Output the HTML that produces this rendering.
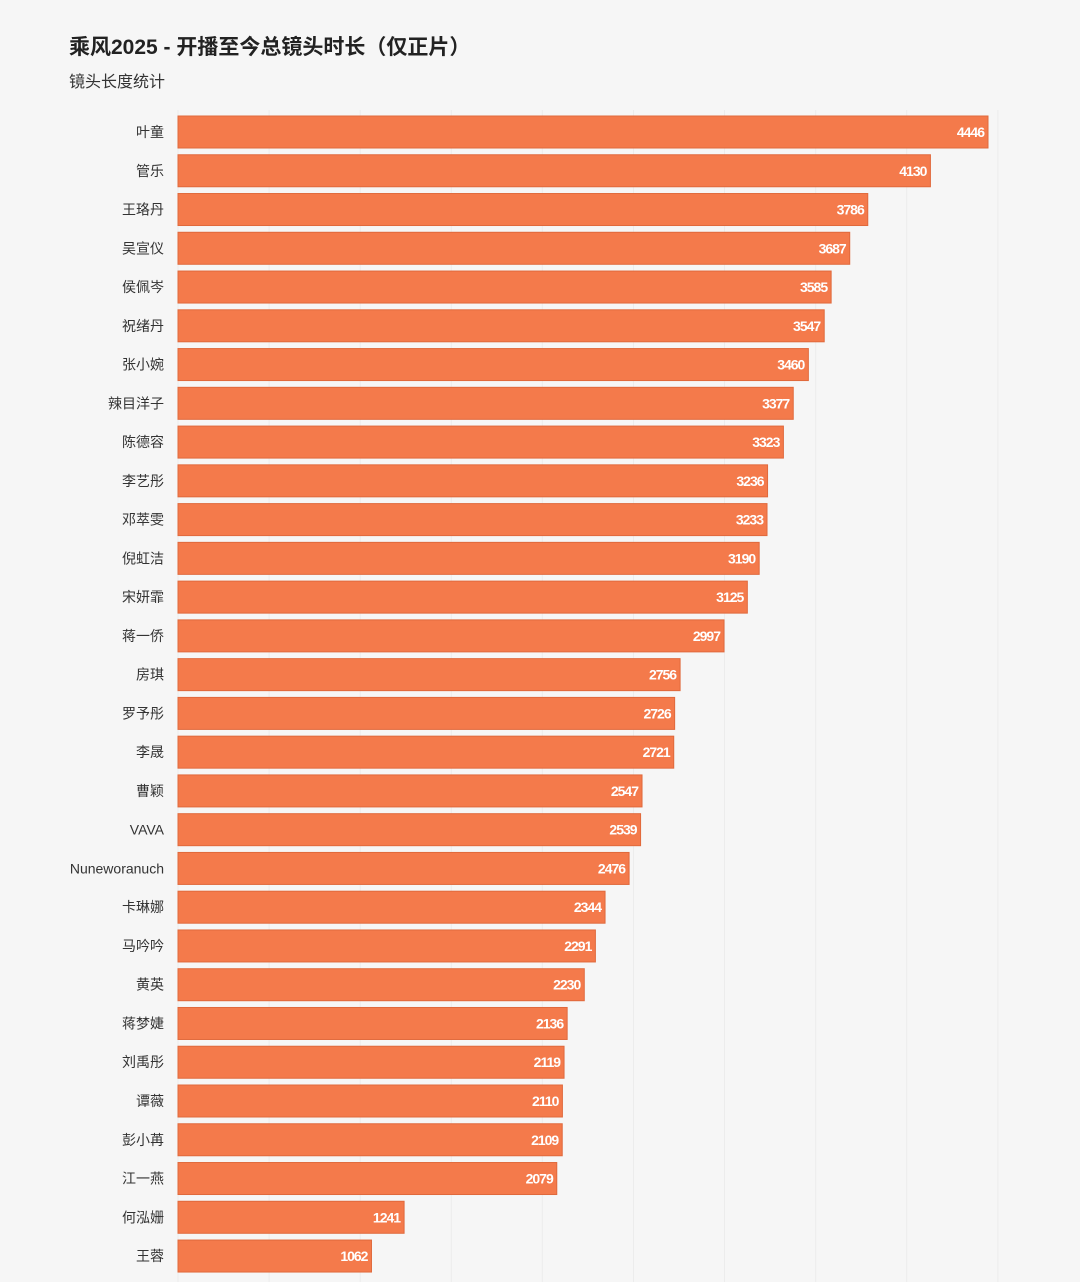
<!DOCTYPE html>
<html><head><meta charset="utf-8"><style>
body{margin:0;background:#f6f6f6;font-family:"Liberation Sans","Noto Sans CJK SC",sans-serif;}
</style></head><body>
<svg id="chart" width="1080" height="1282" xmlns="http://www.w3.org/2000/svg" style="display:block">
<rect width="1080" height="1282" fill="#f6f6f6"/>
<text x="69" y="54" font-size="21" font-weight="bold" fill="#222">乘风2025 - 开播至今总镜头时长（仅正片）</text>
<text x="69" y="87" font-size="16" fill="#333">镜头长度统计</text>
<g id="grid"></g><g id="bars"></g><g id="ticks"></g>
</svg>
<script>
const names=["叶童","管乐","王珞丹","吴宣仪","侯佩岑","祝绪丹","张小婉","辣目洋子","陈德容","李艺彤","邓萃雯","倪虹洁","宋妍霏","蒋一侨","房琪","罗予彤","李晟","曹颖","VAVA","Nuneworanuch","卡琳娜","马吟吟","黄英","蒋梦婕","刘禹彤","谭薇","彭小苒","江一燕","何泓姗","王蓉"];
const values=[4446,4130,3786,3687,3585,3547,3460,3377,3323,3236,3233,3190,3125,2997,2756,2726,2721,2547,2539,2476,2344,2291,2230,2136,2119,2110,2109,2079,1241,1062];
const tickValues=[0,500,1000,1500,2000,2500,3000,3500,4000,4500];
const NS="http://www.w3.org/2000/svg";
const x0=178,k=810/4446;
const xs=v=>x0+v*k;
const ys=i=>116+i*38.76;
const bh=32;
const grid=document.getElementById('grid'),bars=document.getElementById('bars'),ticks=document.getElementById('ticks');
tickValues.forEach(t=>{
  const l=document.createElementNS(NS,'line');
  
  
  l.setAttribute('x1',xs(t));l.setAttribute('x2',xs(t));l.setAttribute('y1',110);l.setAttribute('y2',1282);
  l.setAttribute('stroke','#ececec');l.setAttribute('stroke-width','1');
  grid.appendChild(l);
  const tx=document.createElementNS(NS,'text');
  
  
  tx.setAttribute('x',xs(t)+7);tx.setAttribute('y',1292);tx.setAttribute('text-anchor','middle');
  tx.setAttribute('font-size','14');tx.setAttribute('fill','#666');tx.textContent=t;
  ticks.appendChild(tx);
});
names.forEach((n,i)=>{
  const y=ys(i);
  const lab=document.createElementNS(NS,'text');
  
  
  lab.setAttribute('x',164);lab.setAttribute('y',y+bh/2+5);lab.setAttribute('text-anchor','end');
  lab.setAttribute('font-size','14');lab.setAttribute('fill','#333');lab.textContent=n;
  bars.appendChild(lab);
  const r=document.createElementNS(NS,'rect');
  
  
  r.setAttribute('x',x0);r.setAttribute('y',y);r.setAttribute('width',xs(values[i])-x0);r.setAttribute('height',bh);
  r.setAttribute('fill','#f47a4b');r.setAttribute('stroke','#e0693c');r.setAttribute('stroke-width','1');
  bars.appendChild(r);
  const v=document.createElementNS(NS,'text');
  
  
  v.setAttribute('x',xs(values[i])-4);v.setAttribute('y',y+bh/2+5);v.setAttribute('text-anchor','end');
  v.setAttribute('font-size','14');v.setAttribute('font-weight','bold');v.setAttribute('fill','#fff');v.setAttribute('letter-spacing','-1');
  v.textContent=values[i];
  bars.appendChild(v);
});
</script>
</body></html>
